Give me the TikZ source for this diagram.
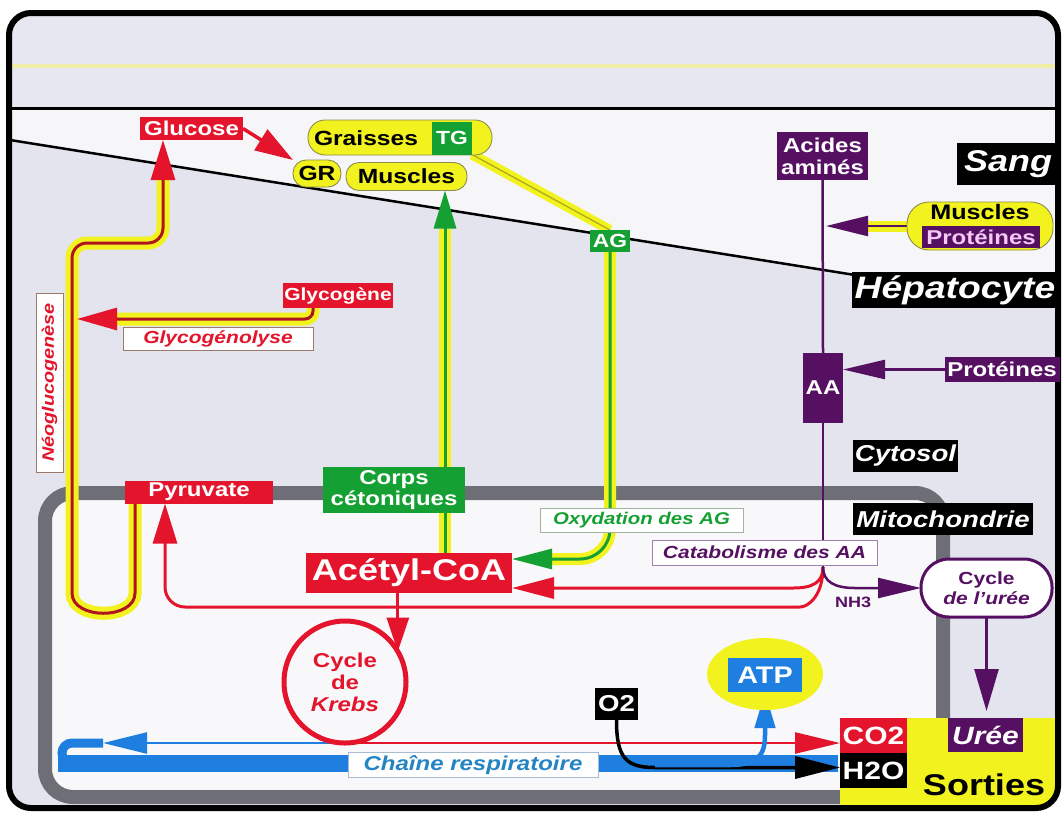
\documentclass[tikz,border=0pt]{standalone}
\usepackage{fontspec}
\setmainfont{Liberation Sans}[FakeStretch=1.2]
\usetikzlibrary{arrows.meta,shapes.geometric,calc}
\pgfdeclarelayer{bgfill}
\pgfdeclarelayer{conn}
\pgfsetlayers{bgfill,conn,main}
\definecolor{cred}{HTML}{E3142B}
\definecolor{cdred}{HTML}{B0141E}
\definecolor{cgreen}{HTML}{14A032}
\definecolor{cyel}{HTML}{F2F21E}
\definecolor{colive}{HTML}{A8A818}
\definecolor{cpur}{HTML}{561062}
\definecolor{ppink}{HTML}{F4C8F4}
\definecolor{cblue}{HTML}{1E7FE0}
\definecolor{ctext}{HTML}{2484C4}
\definecolor{cgray}{HTML}{6E6E76}
\definecolor{bgl}{HTML}{E4E4EE}
\definecolor{bgw}{HTML}{F6F6F8}
\definecolor{bgh}{HTML}{E6E7F0}
\definecolor{hline}{HTML}{EFEDA6}
\definecolor{mitof}{HTML}{F8F8FA}
\definecolor{capb}{HTML}{8C8C50}
\definecolor{tagbr}{HTML}{9C7A6A}
\definecolor{taggr}{HTML}{A0B4A0}
\definecolor{tagpu}{HTML}{A080B0}
\definecolor{tagbl}{HTML}{A8BCD0}
\newcommand\fsz[2]{\fontsize{#1}{#2}\selectfont}
\tikzset{
  lbl/.style={inner sep=0, outer sep=0, align=center},
  wbox/.style={lbl, text=white},
  capsule/.style={lbl, fill=cyel, draw=capb, line width=0.9, rounded corners=13},
  tagbox/.style={lbl, fill=white, draw=#1, line width=0.8},
  halo/.style={draw=cyel, line width=13},
}
\begin{document}
\begin{tikzpicture}[x=1pt,y=-1pt]
\useasboundingbox (0,0) rectangle (1064,812);

% ---------- background ----------
\begin{pgfonlayer}{bgfill}
\begin{scope}
  \clip[rounded corners=22] (9,13) rectangle (1058,808);
  \fill[bgh] (0,0) rectangle (1064,108);
  \fill[bgw] (0,108) rectangle (1064,812);
  \fill[bgl] (0,138.4) -- (855,275) -- (1064,275) -- (1064,812) -- (0,812) -- cycle;
  \draw[hline, line width=4] (0,66) -- (1064,66);
  \draw[black, line width=3] (0,108) -- (1064,108);
  \draw[black, line width=2.5] (0,138.4) -- (855,275);
  \draw[cgray, line width=14, fill=mitof, rounded corners=28] (45,493) rectangle (943,797);
  \fill[cyel] (840,718) rectangle (1064,812);
\end{scope}
\draw[black, line width=6, rounded corners=22] (9,13) rectangle (1058,808);
\end{pgfonlayer}

% ---------- nodes ----------
\node[wbox, fill=cred, minimum width=103, minimum height=23, font=\fsz{20}{22}\bfseries] (glucose) at (191.5,128.5) {Glucose};
\node[capsule, minimum width=184, minimum height=35, rounded corners=17] (graissescap) at (400,137.5) {};
\node[lbl, font=\fsz{20.5}{22}\bfseries] (graisses) at (366,138) {Graisses};
\node[wbox, fill=cgreen, minimum width=40, minimum height=33, font=\fsz{19}{20}\bfseries] (tg) at (452,138) {TG};
\node[capsule, minimum width=48, minimum height=27, font=\fsz{20.5}{22}\bfseries] (gr) at (317,173.5) {GR};
\node[capsule, minimum width=121, minimum height=28, font=\fsz{20.5}{22}\bfseries] (musclesG) at (406.5,176.5) {Muscles};

\node[wbox, fill=cpur, minimum width=91, minimum height=48, font=\fsz{20}{22}\bfseries] (acides) at (822.5,156) {Acides\\aminés};
\node[wbox, fill=black, minimum width=103, minimum height=42, font=\fsz{30}{32}\bfseries\itshape] (sang) at (1008,164) {Sang};
\node[capsule, minimum width=146, minimum height=48, rounded corners=22] (muscprot) at (980,226) {};
\node[lbl, font=\fsz{21}{22}\bfseries] (mpm) at (980,212) {Muscles};
\node[wbox, fill=cpur, text=ppink, minimum width=118, minimum height=22, font=\fsz{20}{22}\bfseries] (mpp) at (981,237) {Protéines};
\node[wbox, fill=black, minimum width=206, minimum height=36, font=\fsz{31}{32}\bfseries\itshape] (hepato) at (955,290) {Hépatocyte};

\node[wbox, fill=cred, minimum width=110, minimum height=25, font=\fsz{17.5}{18}\bfseries] (glycogene) at (338,295.5) {Glycogène};
\node[tagbox=tagbr, text=cred, minimum width=190, minimum height=23, font=\fsz{17.5}{18}\bfseries\itshape] (glycogenolyse) at (218,338.5) {Glycogénolyse};
\node[tagbox=tagbr, text=cred, rotate=90, minimum width=179, minimum height=27, font=\fsz{16.5}{18}\bfseries\itshape] (neo) at (49.5,382.5) {Néoglucogenèse};

\node[wbox, fill=cgreen, minimum width=40, minimum height=22, font=\fsz{19}{20}\bfseries] (ag) at (610,241) {AG};
\node[wbox, fill=cpur, minimum width=40, minimum height=70, font=\fsz{20}{22}\bfseries] (aa) at (823,388) {AA};
\node[wbox, fill=cpur, minimum width=115, minimum height=25, font=\fsz{20}{22}\bfseries] (proteines) at (1002,369.5) {Protéines};
\node[wbox, fill=black, minimum width=105, minimum height=32, font=\fsz{23}{24}\bfseries\itshape] (cytosol) at (905.5,456) {Cytosol};
\node[wbox, fill=black, minimum width=180, minimum height=32, font=\fsz{23}{24}\bfseries\itshape] (mitoch) at (943,519) {Mitochondrie};

\node[wbox, fill=cgreen, minimum width=142, minimum height=46, font=\fsz{20}{21}\bfseries] (corps) at (394,490) {Corps\\cétoniques};
\node[wbox, fill=cred, minimum width=148, minimum height=23, font=\fsz{20}{22}\bfseries] (pyr) at (199,492) {Pyruvate};
\node[tagbox=taggr, text=cgreen, minimum width=203, minimum height=24, font=\fsz{17}{18}\bfseries\itshape] (oxyd) at (641.5,520.5) {Oxydation des AG};
\node[tagbox=tagpu, text=cpur, minimum width=225, minimum height=25, font=\fsz{17.5}{18}\bfseries\itshape] (catab) at (764.5,552.5) {Catabolisme des AA};
\node[wbox, fill=cred, minimum width=206, minimum height=40, font=\fsz{30}{32}\bfseries] (acetyl) at (409,573) {Acétyl-CoA};
\node[lbl, text=cpur, font=\fsz{15}{16}\bfseries] (nh3) at (853,602) {NH3};
\node[lbl, fill=white, draw=cpur, line width=3, rounded corners=28, minimum width=131, minimum height=58, text=cpur, font=\fsz{17.5}{20}\bfseries] (ucycle) at (986.5,588) {Cycle\\\textit{de l'urée}};

\node[lbl, circle, draw=cred, fill=mitof, line width=5, minimum size=122, text=cred, font=\fsz{20}{22}\bfseries] (krebs) at (345,682) {Cycle\\de\\\textit{Krebs}};
\node[lbl, ellipse, fill=cyel, minimum width=116, minimum height=72] (atpell) at (765,674) {};
\node[wbox, fill=cblue, minimum width=74, minimum height=34, font=\fsz{24}{26}\bfseries] (atpbox) at (765,675) {ATP};
\node[wbox, fill=black, minimum width=43, minimum height=32, font=\fsz{23}{24}\bfseries] (o2) at (616.5,704) {O2};
\node[wbox, fill=cred, minimum width=67, minimum height=35, font=\fsz{25}{26}\bfseries] (co2) at (873.5,735.5) {CO2};
\node[wbox, fill=black, minimum width=67, minimum height=35, font=\fsz{25}{26}\bfseries] (h2o) at (873.5,770.5) {H2O};
\node[wbox, fill=cpur, minimum width=75, minimum height=34, font=\fsz{25}{26}\bfseries\itshape] (uree) at (985.5,735) {Urée};
\node[lbl, text=black, font=\fsz{30}{32}\bfseries] (sorties) at (984,785) {Sorties};
\node[tagbox=tagbl, text=ctext, minimum width=250, minimum height=25, font=\fsz{20}{22}\bfseries\itshape] (chaine) at (473,765) {Chaîne respiratoire};

% ---------- connectors ----------
\begin{pgfonlayer}{conn}
% Glucose -> GR
\draw[cred, line width=3.5, -{Triangle[length=38pt,width=24pt]}] (glucose.east) -- (gr.north west);

% Neoglucogenese : Pyruvate -> Glucose
\coordinate (pyrL) at ([xshift=10]pyr.south west);
\coordinate (glcB) at ([xshift=-28.5]glucose.south);
\draw[halo, rounded corners=15, shorten >=40pt] (pyrL) -- (135,578) .. controls (135,620) and (72,620) .. (72,578) -- (72,243) -- (163,243) -- (glcB);
\draw[cdred, line width=3, rounded corners=15, -{Triangle[length=40pt,width=24pt,color=cred]}] (pyrL) -- (135,578) .. controls (135,620) and (72,620) .. (72,578) -- (72,243) -- (163,243) -- (glcB);

% Glycogene -> glycogenolyse
\coordinate (glyS) at ([xshift=-25]glycogene.south);
\coordinate (neoIn) at (77,319);
\draw[halo, rounded corners=8, shorten >=40pt] (glyS) |- (neoIn);
\draw[cdred, line width=3, rounded corners=8, -{Triangle[length=40pt,width=22pt,color=cred]}] (glyS) |- (neoIn);

% Acetyl-CoA -> Muscles (corps cetoniques)
\coordinate (acN) at ([xshift=36]acetyl.north);
\coordinate (muS) at ([xshift=38.5]musclesG.south);
\draw[halo, line width=12, shorten >=38pt] (acN) -- (muS);
\draw[cgreen, line width=3, -{Triangle[length=38pt,width=22pt]}] (acN) -- (muS);

% TG -> AG
\draw[cyel, line width=10] (tg.south east) -- (ag.north);
\draw[colive, line width=1.2] (tg.south east) -- (ag.north);

% AG -> Acetyl-CoA
\coordinate (acE1) at ([yshift=-6]acetyl.north east);
\draw[halo, line width=12, rounded corners=30, shorten >=40pt] (ag.south) |- (acE1);
\draw[cgreen, line width=3, rounded corners=30, -{Triangle[length=40pt,width=20pt]}] (ag.south) |- (acE1);

% amino acids
\coordinate (cb) at (823,567);
\draw[cpur, line width=2.5] (acides.south) -- (aa.north);
\draw[cpur, line width=2.5] (aa.south) -- (cb);
\coordinate (mpl) at (826,226);
\draw[halo, line width=11, shorten >=42pt] (muscprot.west) -- (mpl);
\draw[cpur, line width=2.5, -{Triangle[length=42pt,width=20pt]}] (muscprot.west) -- (mpl);
\draw[cpur, line width=2.5, -{Triangle[length=42pt,width=19pt]}] (proteines.west) -- (aa.east |- proteines.west);

% catabolisme branches
\coordinate (acE2) at ([yshift=-15]acetyl.east);
\draw[cred, line width=3, -{Triangle[length=42pt,width=21pt]}] (cb) .. controls (823,583) and (812,588) .. (793,588) -- (acE2);
\coordinate (pyrR) at ([xshift=40]pyr.south west);
\draw[cred, line width=3, rounded corners=20, -{Triangle[length=40pt,width=24pt]}] (cb) .. controls (823,596) and (808,607) .. (780,607) -| (pyrR);
\draw[cpur, line width=2.5, -{Triangle[length=43pt,width=20pt]}] (cb) .. controls (823,582) and (835,588) .. (855,588) -- (ucycle.west);
\draw[cpur, line width=2.5, shorten >=7pt, -{Triangle[length=42pt,width=24pt]}] (ucycle.south) -- (ucycle.south |- uree.north);

% Acetyl-CoA -> Krebs
\draw[cred, line width=3, -{Triangle[length=34pt,width=22pt]}] (krebs.30 |- acetyl.south) -- (krebs.30);
% Krebs -> CO2
\draw[cred, line width=2.5, -{Triangle[length=45pt,width=21pt]}] (krebs.south) -- (krebs.south -| co2.west);

% respiratory chain
\fill[cblue] (58,755) rectangle (838,772);
\coordinate (btip) at (103,743);
\draw[cblue, line width=2.5, -{Triangle[length=44pt,width=21pt]}] (krebs.south) -- (btip);
\draw[cblue, line width=9, rounded corners=10] (btip) -- (62,743) -- (62,763) -- (90,763);
\coordinate (h2oW) at ([yshift=3]h2o.west);
\draw[black, line width=3.5, -{Triangle[length=45pt,width=22pt]}] (o2.south) .. controls (616.5,758) and (626,767.5) .. (655,767.5) -- (h2oW);
\coordinate (bandpt) at (655,765);
\draw[cblue, line width=4.5, -{Triangle[length=36pt,width=20pt]}] (bandpt) -- (730,765) .. controls (758,765) and (765,755) .. (765,735) -- (atpbox.south);
\end{pgfonlayer}
\end{tikzpicture}
\end{document}
